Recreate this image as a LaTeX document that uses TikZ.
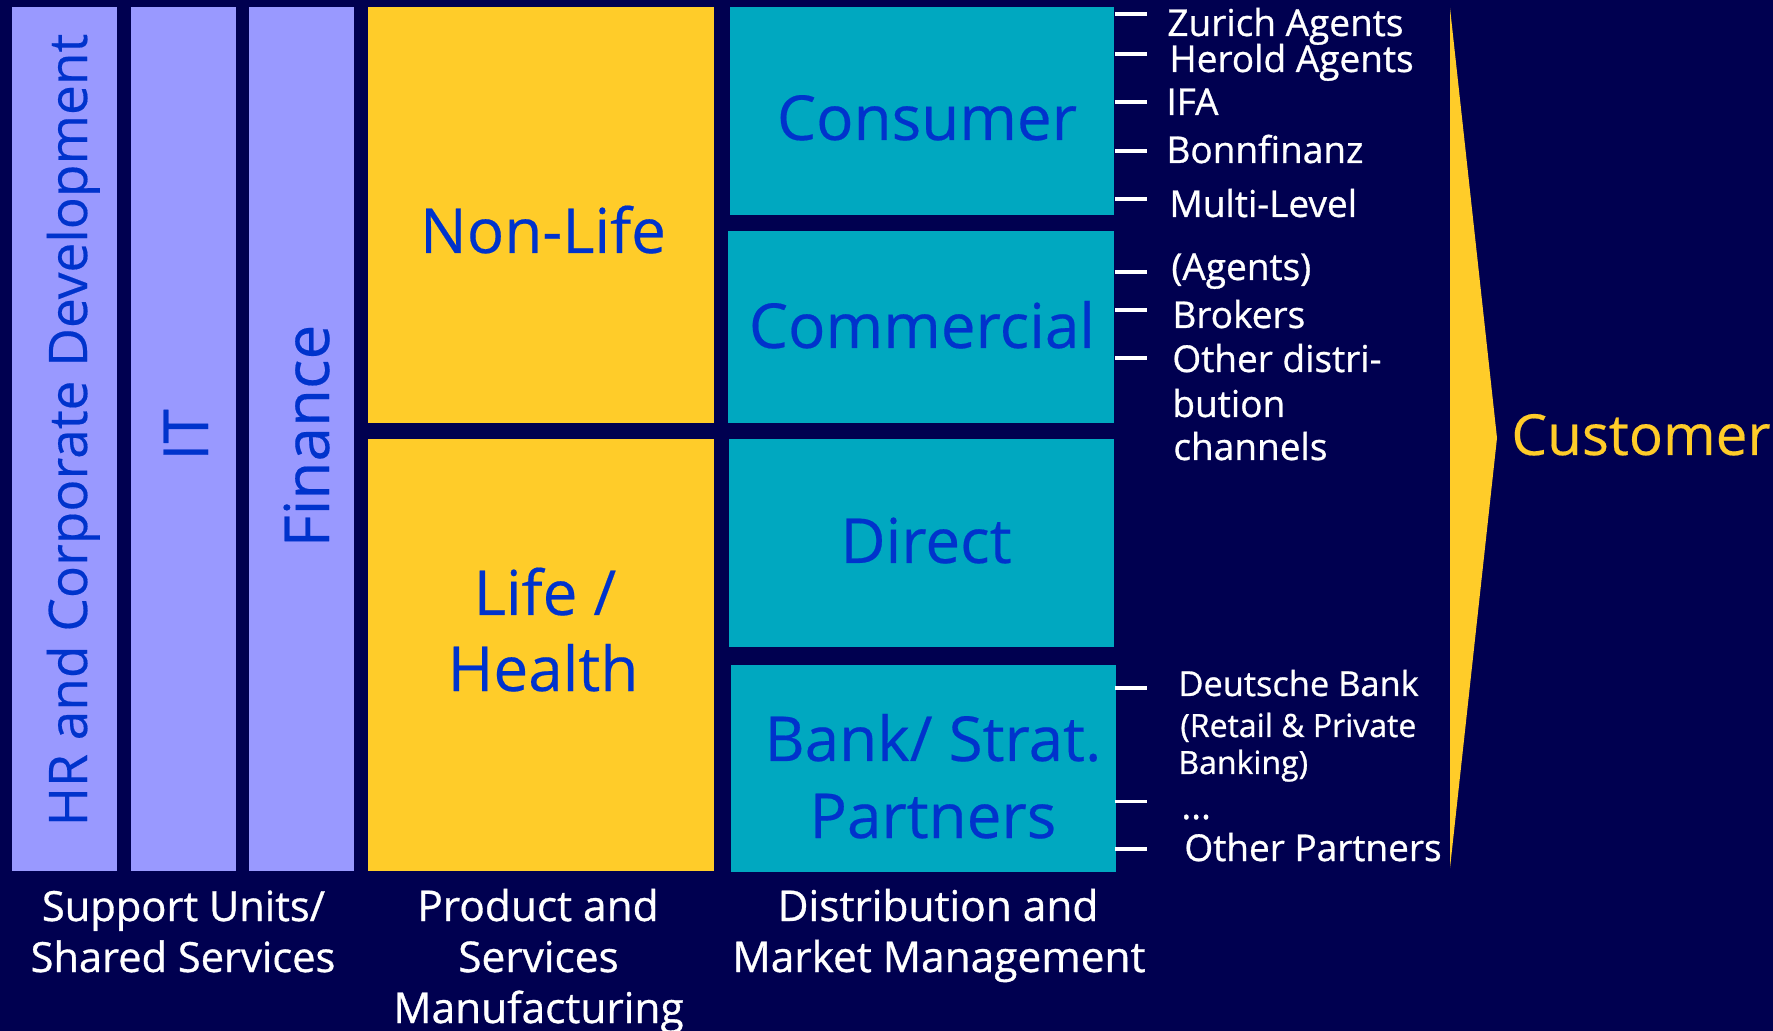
\documentclass[tikz,border=0pt]{standalone}
\usepackage{fontspec}
\setmainfont{Open Sans}
\newfontfamily\wfont[FakeBold=0.8]{Open Sans}
\newfontfamily\bfnt[FakeBold=0.3]{Open Sans}
\definecolor{bg}{RGB}{0,0,80}
\definecolor{purp}{RGB}{153,153,255}
\definecolor{yel}{RGB}{255,204,41}
\definecolor{tealc}{RGB}{0,168,192}
\definecolor{btxt}{RGB}{0,51,204}
\begin{document}
\begin{tikzpicture}[x=0.5pt,y=-0.5pt,
  big/.style={text=btxt, font=\bfnt\fontsize{31}{37}\selectfont, inner sep=0pt, anchor=base},
  lbl/.style={text=white, font=\wfont\fontsize{18.5}{22}\selectfont, inner sep=0pt, anchor=base west},
  foot/.style={text=white, font=\wfont\fontsize{21.2}{25}\selectfont, inner sep=0pt, anchor=base},
  tickline/.style={draw=white, line width=1.75pt}]
\useasboundingbox (0,0) rectangle (1773,1031);
\fill[bg] (0,0) rectangle (1773,1031);
% support columns
\fill[purp] (12,7) rectangle (117,871);
\fill[purp] (131,7) rectangle (236,871);
\fill[purp] (249,7) rectangle (354,871);
% product boxes
\fill[yel] (368,7) rectangle (714,423);
\fill[yel] (368,439) rectangle (714,871);
% distribution boxes
\fill[tealc] (730,7) rectangle (1114,215);
\fill[tealc] (728,231) rectangle (1114,423);
\fill[tealc] (729,439) rectangle (1114,647);
\fill[tealc] (731,665) rectangle (1116,872);
% customer arrow
\fill[yel] (1450,8) -- (1497,438) -- (1450,868) -- cycle;
% vertical texts
\node[big, rotate=90, font=\bfnt\fontsize{26.6}{30}\selectfont] (hr) at (87,430) {HR and Corporate Development};
\node[big, rotate=90] (it) at (208,435) {IT};
\node[big, rotate=90, font=\bfnt\fontsize{31}{36}\selectfont] (fin) at (329,436) {Finance};
% box texts
\node[big] (nonlife) at (543,253) {Non-Life};
\node[big] (life) at (545,615) {Life /};
\node[big] (health) at (543,691) {Health};
\node[big] (consumer) at (927,140) {Consumer};
\node[big] (commercial) at (922,348) {Commercial};
\node[big] (direct) at (926,563) {Direct};
\node[big] (bank) at (933,761) {Bank/ Strat.};
\node[big] (partners) at (933,838) {Partners};
\node[text=yel, font=\bfnt\fontsize{28.3}{34}\selectfont, inner sep=0pt, anchor=base west] (customer) at (1511,455) {Customer};
% channel labels
\node[lbl] (zur) at (1167,36) {Zurich Agents};
\node[lbl] (her) at (1169,72) {Herold Agents};
\node[lbl] (ifa) at (1166,115) {IFA};
\node[lbl] (bon) at (1166,163) {Bonnfinanz};
\node[lbl] (mlv) at (1169,217) {Multi-Level};
\node[lbl] (agt) at (1171,280) {(Agents)};
\node[lbl] (brk) at (1172,328) {Brokers};
\node[lbl] (oth1) at (1172,372) {Other distri-};
\node[lbl] (oth2) at (1172,417) {bution};
\node[lbl] (oth3) at (1173,460) {channels};
\node[lbl, font=\wfont\fontsize{17.2}{20}\selectfont] (db1) at (1178,696) {Deutsche Bank};
\node[lbl, font=\wfont\fontsize{16}{19}\selectfont] (db2) at (1180,737) {(Retail \& Private};
\node[lbl, font=\wfont\fontsize{16}{19}\selectfont] (db3) at (1178,774) {Banking)};
\node[lbl] (dots) at (1181,819) {...};
\node[lbl, font=\wfont\fontsize{18.5}{22}\selectfont] (op) at (1184,861) {Other Partners};
% ticks
\foreach \ty in {14,54,102,151,199,272,310,358,688,801.5,849}
  \draw[tickline] (1115,\ty) -- (1147,\ty);
% footer labels
\node[foot, font=\wfont\fontsize{20.8}{24}\selectfont] (sup1) at (183.5,921) {Support Units/};
\node[foot, font=\wfont\fontsize{20.8}{24}\selectfont] (sup2) at (183,972) {Shared Services};
\node[foot] (pro1) at (538,921) {Product and};
\node[foot] (pro2) at (538.5,972) {Services};
\node[foot] (pro3) at (538.5,1023) {Manufacturing};
\node[foot] (dis1) at (938,921) {Distribution and};
\node[foot] (dis2) at (939,972) {Market Management};
\end{tikzpicture}
\end{document}
